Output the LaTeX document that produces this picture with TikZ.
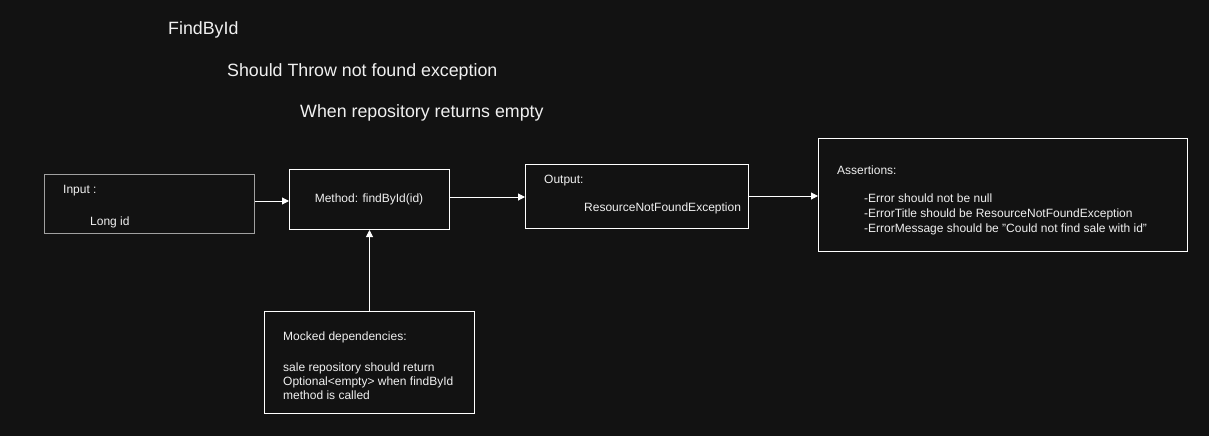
\documentclass[tikz,border=0pt]{standalone}
\usepackage{fontspec}
\setmainfont{Liberation Sans}
\usetikzlibrary{arrows.meta}
\definecolor{bg}{HTML}{121212}
\definecolor{fg}{HTML}{F0F0F0}
\definecolor{greyedge}{HTML}{A0A0A0}
\tikzset{
  box/.style={draw=white, line width=1pt, fill=bg, inner sep=0pt, anchor=north west},
  txt/.style={text=fg, font=\fontsize{12}{14.5}\selectfont, inner sep=0pt, anchor=west, align=left},
  head/.style={text=fg, font=\fontsize{17.8}{20}\selectfont, inner sep=0pt, anchor=west},
  link/.style={draw=white, line width=1pt, -{Triangle[length=7pt,width=7pt]}}
}
\begin{document}
\begin{tikzpicture}[x=1pt,y=-1pt]
\fill[bg] (0,0) rectangle (1209,436);
\useasboundingbox (0,0) rectangle (1209,436);
% titles
\node[head] (t1) at (168,30) {FindById};
\node[head] (t2) at (227,72) {Should Throw not found exception};
\node[head] (t3) at (300,113) {When repository returns empty};
% boxes
\node[box, draw=greyedge, minimum width=210pt, minimum height=59pt] (input) at (44,174) {};
\node[txt] (inputa) at (63,191) {Input :};
\node[txt] (inputb) at (90,222) {Long id};
\node[box, minimum width=160pt, minimum height=60pt] (method) at (289,169) {};
\node[txt, anchor=center] (methodt) at (369,199) {Method: findById(id)};
\node[box, minimum width=223pt, minimum height=64pt] (output) at (525,164) {};
\node[txt] (outa) at (544,181) {Output:};
\node[txt] (outb) at (584,208) {ResourceNotFoundException};
\node[box, minimum width=369pt, minimum height=113pt] (assert) at (818,138) {};
\node[txt] (asa) at (837,170) {Assertions:};
\node[txt, anchor=north west, font=\fontsize{12}{15}\selectfont] (asb) at (864,194) {-Error should not be null\\-ErrorTitle should be ResourceNotFoundException\\-ErrorMessage should be "Could not find sale with id"};
\node[box, minimum width=210pt, minimum height=102pt] (mock) at (264,311) {};
\node[txt] (mocka) at (283,337) {Mocked dependencies:};
\node[txt, anchor=north west, font=\fontsize{12}{14}\selectfont] (mockb) at (283,363) {sale repository should return\\Optional<empty> when findById\\method is called};
% connectors
\coordinate (m1) at (method.west |- 0,201);
\draw[link] (input.east |- m1) -- (m1);
\coordinate (m2) at (output.west |- 0,197);
\draw[link] (method.east |- m2) -- (m2);
\coordinate (m3) at (assert.west |- 0,196);
\draw[link] (output.east |- m3) -- (m3);
\draw[link] (mock.north) -- (method.south);
\end{tikzpicture}
\end{document}
